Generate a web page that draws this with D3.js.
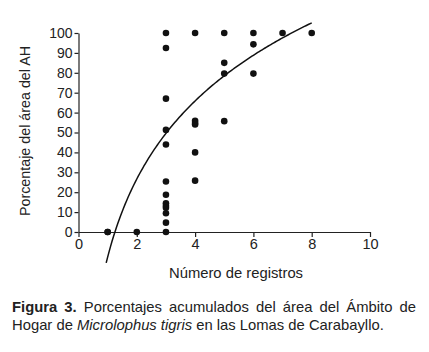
<!DOCTYPE html>
<html lang="es">
<head>
<meta charset="UTF-8">
<title>Figura 3</title>
<script src="https://d3js.org/d3.v7.min.js"></script>
<style>
  body { margin: 0; background: #fff; }
  text { font-family: "Liberation Sans", Arial, sans-serif; fill: #222; }
</style>
</head>
<body>
<div id="container"></div>
<script>
// Datos
const registros = [1, 1, 2,
  3, 3, 3, 3, 3, 3, 3, 3, 3, 3, 3, 3, 3,
  4, 4, 4, 4, 4, 4,
  5, 5, 5, 5,
  6, 6, 6,
  7, 8];
const porcentajes = [0, 0, 0,
  100, 92.5, 67, 51.3, 44, 25.4, 18.7, 14.4, 13.2, 12.2, 9.4, 4.7, 0,
  100, 55.9, 54.8, 54, 40, 25.8,
  100, 85, 79.6, 55.7,
  100, 94.3, 79.6,
  100, 100];
const xTicks = [0, 2, 4, 6, 8, 10];
const yTicks = [0, 10, 20, 30, 40, 50, 60, 70, 80, 90, 100];
// Ajuste logarítmico y = a + b ln(x)
const fitA = -12.6;
const fitB = 56.6;
const fitRange = [0.95, 8];

const W = 429, H = 352;
const mLeft = 78.5, mRight = 370, mTop = 33, mBottom = 232;

const svg = d3.select("#container").append("svg")
  .attr("width", W).attr("height", H);

const x = d3.scaleLinear().domain([0, 10]).range([mLeft, mRight]);
const y = d3.scaleLinear().domain([0, 100]).range([mBottom, mTop]);

// Eje X
svg.append("g")
  .attr("transform", `translate(0,${mBottom})`)
  .call(d3.axisBottom(x).tickValues(xTicks).tickSize(5).tickSizeOuter(0).tickPadding(2))
  .call(g => g.selectAll("text").attr("font-size", 14.5))
  .call(g => g.selectAll("line,path").attr("stroke", "#222").attr("stroke-width", 1.2));

// Eje Y
svg.append("g")
  .attr("transform", `translate(${mLeft},0)`)
  .call(d3.axisLeft(y).tickValues(yTicks).tickSize(4).tickSizeOuter(0).tickPadding(2))
  .call(g => g.selectAll("text").attr("font-size", 14))
  .call(g => g.selectAll("line,path").attr("stroke", "#222").attr("stroke-width", 1.2));

// Curva de ajuste
const curve = d3.range(fitRange[0], fitRange[1] + 0.001, 0.05)
  .map(v => [v, fitA + fitB * Math.log(v)]);
svg.append("path")
  .datum(curve)
  .attr("fill", "none")
  .attr("stroke", "#111")
  .attr("stroke-width", 1.5)
  .attr("d", d3.line().x(d => x(d[0])).y(d => y(d[1])));

// Puntos
svg.append("g")
  .selectAll("circle")
  .data(registros.map((r, i) => ({ r, p: porcentajes[i] })))
  .join("circle")
  .attr("cx", d => x(d.r))
  .attr("cy", d => y(d.p))
  .attr("r", 3.3)
  .attr("fill", "#111");

// Títulos de ejes
svg.append("text")
  .attr("x", 236)
  .attr("y", 278)
  .attr("text-anchor", "middle")
  .attr("font-size", 14.8)
  .text("Número de registros");

svg.append("text")
  .attr("transform", `translate(30,131) rotate(-90)`)
  .attr("text-anchor", "middle")
  .attr("font-size", 14.3)
  .text("Porcentaje del área del AH");

// Leyenda de la figura (primera línea justificada)
const capX = 12, capW = 401;
const cap1 = svg.append("text")
  .attr("x", capX).attr("y", 312)
  .attr("font-size", 14.8);
cap1.append("tspan").attr("font-weight", "bold").text("Figura 3.");
cap1.append("tspan").text(" Porcentajes acumulados del área del Ámbito de");
const natural = cap1.node().getComputedTextLength();
const gaps = 7;
cap1.attr("word-spacing", Math.max(0, (capW - natural) / gaps));

const cap2 = svg.append("text")
  .attr("x", capX).attr("y", 330)
  .attr("font-size", 14.8);
cap2.append("tspan").text("Hogar de ");
cap2.append("tspan").attr("font-style", "italic").text("Microlophus tigris");
cap2.append("tspan").text(" en las Lomas de Carabayllo.");
</script>
</body>
</html>
